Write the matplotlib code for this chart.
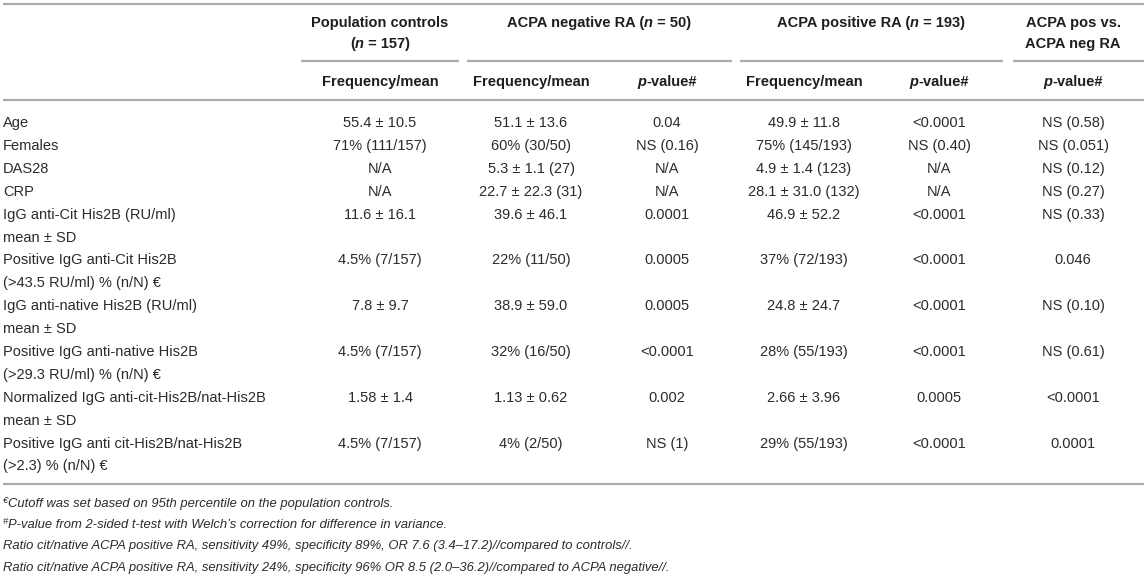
import matplotlib
matplotlib.use("Agg")
import matplotlib.pyplot as plt
from matplotlib.font_manager import FontProperties

# ---------------- data ----------------
group_headers = [
    ["Population controls", "(|n| = 157)"],
    ["ACPA negative RA (|n| = 50)"],
    ["ACPA positive RA (|n| = 193)"],
    ["ACPA pos vs.", "ACPA neg RA"],
]
sub_headers = ["Frequency/mean", "Frequency/mean", "|p|-value#",
               "Frequency/mean", "|p|-value#", "|p|-value#"]

row_labels = [
    ["Age"],
    ["Females"],
    ["DAS28"],
    ["CRP"],
    ["IgG anti-Cit His2B (RU/ml)", "mean \u00b1 SD"],
    ["Positive IgG anti-Cit His2B", "(>43.5 RU/ml) % (n/N) \u20ac"],
    ["IgG anti-native His2B (RU/ml)", "mean \u00b1 SD"],
    ["Positive IgG anti-native His2B", "(>29.3 RU/ml) % (n/N) \u20ac"],
    ["Normalized IgG anti-cit-His2B/nat-His2B", "mean \u00b1 SD"],
    ["Positive IgG anti cit-His2B/nat-His2B", "(>2.3) % (n/N) \u20ac"],
]
pop_controls = ["55.4 \u00b1 10.5", "71% (111/157)", "N/A", "N/A", "11.6 \u00b1 16.1",
                "4.5% (7/157)", "7.8 \u00b1 9.7", "4.5% (7/157)", "1.58 \u00b1 1.4",
                "4.5% (7/157)"]
neg_freq = ["51.1 \u00b1 13.6", "60% (30/50)", "5.3 \u00b1 1.1 (27)", "22.7 \u00b1 22.3 (31)",
            "39.6 \u00b1 46.1", "22% (11/50)", "38.9 \u00b1 59.0", "32% (16/50)",
            "1.13 \u00b1 0.62", "4% (2/50)"]
neg_p = ["0.04", "NS (0.16)", "N/A", "N/A", "0.0001", "0.0005", "0.0005", "<0.0001",
         "0.002", "NS (1)"]
pos_freq = ["49.9 \u00b1 11.8", "75% (145/193)", "4.9 \u00b1 1.4 (123)", "28.1 \u00b1 31.0 (132)",
            "46.9 \u00b1 52.2", "37% (72/193)", "24.8 \u00b1 24.7", "28% (55/193)",
            "2.66 \u00b1 3.96", "29% (55/193)"]
pos_p = ["<0.0001", "NS (0.40)", "N/A", "N/A", "<0.0001", "<0.0001", "<0.0001", "<0.0001",
         "0.0005", "<0.0001"]
pos_vs_neg_p = ["NS (0.58)", "NS (0.051)", "NS (0.12)", "NS (0.27)", "NS (0.33)", "0.046",
                "NS (0.10)", "NS (0.61)", "<0.0001", "0.0001"]
footnotes = [
    ("\u20ac", "Cutoff was set based on 95th percentile on the population controls."),
    ("#", "P-value from 2-sided t-test with Welch\u2019s correction for difference in variance."),
    ("", "Ratio cit/native ACPA positive RA, sensitivity 49%, specificity 89%, OR 7.6 (3.4\u201317.2)//compared to controls//."),
    ("", "Ratio cit/native ACPA positive RA, sensitivity 24%, specificity 96% OR 8.5 (2.0\u201336.2)//compared to ACPA negative//."),
]

# ---------------- layout ----------------
W, H = 1144, 578
fig = plt.figure(figsize=(W / 100, H / 100), dpi=100)
ax = fig.add_axes([0, 0, 1, 1])
ax.set_xlim(0, W)
ax.set_ylim(H, 0)
ax.axis("off")
renderer = fig.canvas.get_renderer()

FAM = "Liberation Sans"
FS = 10.5
FS_FOOT = 9.4
TXT = "#2b2b2b"
HTXT = "#1e1e1e"
LINE = "#ababab"

f_reg = FontProperties(family=FAM, size=FS)
f_bold = FontProperties(family=FAM, size=FS, weight="bold")
f_bold_it = FontProperties(family=FAM, size=FS, weight="bold", style="italic")
f_foot = FontProperties(family=FAM, size=FS_FOOT, style="italic")
f_sup = FontProperties(family=FAM, size=FS_FOOT * 0.72, style="italic")


def draw_runs(x, y, runs, ha="center", color=TXT):
    texts = []
    widths = []
    for s, fp, dy in runs:
        t = ax.text(0, y + dy, s, fontproperties=fp, color=color, ha="left", va="baseline")
        widths.append(t.get_window_extent(renderer).width)
        texts.append(t)
    total = sum(widths)
    x0 = x - total / 2 if ha == "center" else x
    for t, w in zip(texts, widths):
        t.set_x(x0)
        x0 += w


def header_runs(s):
    parts = s.split("|")
    runs = []
    for i, p in enumerate(parts):
        if p:
            runs.append((p, f_bold_it if i % 2 else f_bold, 0))
    return runs


col_x = [380, 531, 667, 804, 939, 1073]
group_x = [380, 599, 871, 1073]
seg = [(301, 459), (467, 732), (740, 1003), (1013, 1144)]

# rules
LW = 1.6
ax.hlines(4, 3, W, color=LINE, lw=LW)
for a, b in seg:
    ax.hlines(61, a, b, color=LINE, lw=LW)
ax.hlines(100, 3, W, color=LINE, lw=LW)
ax.hlines(484, 3, W, color=LINE, lw=LW)

# headers
for gx, lines in zip(group_x, group_headers):
    for k, s in enumerate(lines):
        draw_runs(gx, 27 + 21 * k, header_runs(s), color=HTXT)
for cx, s in zip(col_x, sub_headers):
    draw_runs(cx, 86, header_runs(s), color=HTXT)

# body
Y0 = 122.0
LH = 22.9
columns = [pop_controls, neg_freq, neg_p, pos_freq, pos_p, pos_vs_neg_p]
line_idx = 0
for i, labels in enumerate(row_labels):
    base = Y0 + LH * line_idx + 5
    for k, s in enumerate(labels):
        ax.text(3, base + LH * k, s, fontproperties=f_reg, color=TXT, ha="left", va="baseline")
    for cx, col in zip(col_x, columns):
        ax.text(cx, base, col[i], fontproperties=f_reg, color=TXT, ha="center", va="baseline")
    line_idx += len(labels)

# footnotes
foot_y = [507.5, 528.5, 549.5, 570.5]
for (sup, s), y in zip(footnotes, foot_y):
    runs = []
    if sup:
        runs.append((sup, f_sup, -4.5))
    runs.append((s, f_foot, 0))
    draw_runs(3, y, runs, ha="left")

fig.savefig("out.png", dpi=100)
